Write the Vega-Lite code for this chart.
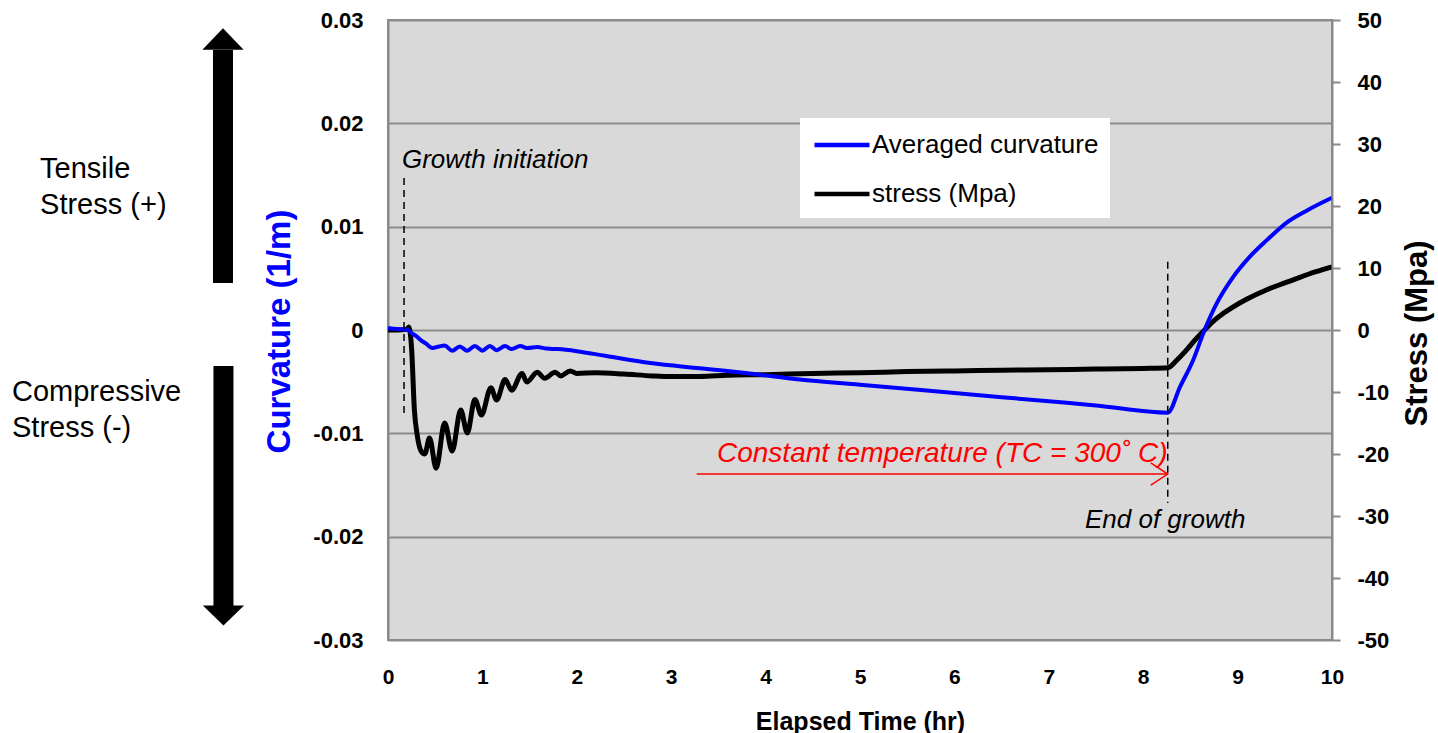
{
  "$schema": "https://vega.github.io/schema/vega-lite/v6.json",
  "width": 944,
  "height": 620,
  "autosize": {"type": "none"},
  "padding": {"left": 388, "top": 20, "right": 106, "bottom": 93},
  "background": "#ffffff",
  "datasets": {
    "stress": [
      {"t": 0, "s": 0, "series": "stress (Mpa)"},
      {"t": 0.1, "s": 0, "series": "stress (Mpa)"},
      {"t": 0.2, "s": 0.1, "series": "stress (Mpa)"},
      {"t": 0.22, "s": 0.5, "series": "stress (Mpa)"},
      {"t": 0.25, "s": -3, "series": "stress (Mpa)"},
      {"t": 0.28, "s": -13, "series": "stress (Mpa)"},
      {"t": 0.31, "s": -17, "series": "stress (Mpa)"},
      {"t": 0.35, "s": -19.5, "series": "stress (Mpa)"},
      {"t": 0.39, "s": -20, "series": "stress (Mpa)"},
      {"t": 0.44, "s": -17.4, "series": "stress (Mpa)"},
      {"t": 0.51, "s": -22.3, "series": "stress (Mpa)"},
      {"t": 0.6, "s": -15, "series": "stress (Mpa)"},
      {"t": 0.68, "s": -19.5, "series": "stress (Mpa)"},
      {"t": 0.77, "s": -12.9, "series": "stress (Mpa)"},
      {"t": 0.84, "s": -16.6, "series": "stress (Mpa)"},
      {"t": 0.92, "s": -11.2, "series": "stress (Mpa)"},
      {"t": 0.99, "s": -13.7, "series": "stress (Mpa)"},
      {"t": 1.09, "s": -9.3, "series": "stress (Mpa)"},
      {"t": 1.15, "s": -11.3, "series": "stress (Mpa)"},
      {"t": 1.24, "s": -8.0, "series": "stress (Mpa)"},
      {"t": 1.31, "s": -9.7, "series": "stress (Mpa)"},
      {"t": 1.42, "s": -7.0, "series": "stress (Mpa)"},
      {"t": 1.47, "s": -8.4, "series": "stress (Mpa)"},
      {"t": 1.58, "s": -6.8, "series": "stress (Mpa)"},
      {"t": 1.66, "s": -7.8, "series": "stress (Mpa)"},
      {"t": 1.77, "s": -6.8, "series": "stress (Mpa)"},
      {"t": 1.83, "s": -7.4, "series": "stress (Mpa)"},
      {"t": 1.93, "s": -6.6, "series": "stress (Mpa)"},
      {"t": 2.0, "s": -7.0, "series": "stress (Mpa)"},
      {"t": 2.2, "s": -6.9, "series": "stress (Mpa)"},
      {"t": 2.5, "s": -7.1, "series": "stress (Mpa)"},
      {"t": 2.8, "s": -7.4, "series": "stress (Mpa)"},
      {"t": 3.0, "s": -7.5, "series": "stress (Mpa)"},
      {"t": 3.3, "s": -7.5, "series": "stress (Mpa)"},
      {"t": 3.6, "s": -7.3, "series": "stress (Mpa)"},
      {"t": 4.0, "s": -7.2, "series": "stress (Mpa)"},
      {"t": 4.5, "s": -7.0, "series": "stress (Mpa)"},
      {"t": 5.0, "s": -6.9, "series": "stress (Mpa)"},
      {"t": 5.5, "s": -6.7, "series": "stress (Mpa)"},
      {"t": 6.0, "s": -6.6, "series": "stress (Mpa)"},
      {"t": 6.5, "s": -6.5, "series": "stress (Mpa)"},
      {"t": 7.0, "s": -6.4, "series": "stress (Mpa)"},
      {"t": 7.5, "s": -6.3, "series": "stress (Mpa)"},
      {"t": 8.0, "s": -6.2, "series": "stress (Mpa)"},
      {"t": 8.26, "s": -6.1, "series": "stress (Mpa)"},
      {"t": 8.36, "s": -4.8, "series": "stress (Mpa)"},
      {"t": 8.46, "s": -3.2, "series": "stress (Mpa)"},
      {"t": 8.55, "s": -1.6, "series": "stress (Mpa)"},
      {"t": 8.65, "s": 0, "series": "stress (Mpa)"},
      {"t": 8.75, "s": 1.5, "series": "stress (Mpa)"},
      {"t": 8.85, "s": 2.7, "series": "stress (Mpa)"},
      {"t": 8.95, "s": 3.7, "series": "stress (Mpa)"},
      {"t": 9.1, "s": 5.0, "series": "stress (Mpa)"},
      {"t": 9.31, "s": 6.5, "series": "stress (Mpa)"},
      {"t": 9.5, "s": 7.6, "series": "stress (Mpa)"},
      {"t": 9.66, "s": 8.5, "series": "stress (Mpa)"},
      {"t": 9.83, "s": 9.4, "series": "stress (Mpa)"},
      {"t": 10, "s": 10.2, "series": "stress (Mpa)"}
    ],
    "curv": [
      {"t": 0, "k": 0.0002, "series": "Averaged curvature"},
      {"t": 0.1, "k": 0.0001, "series": "Averaged curvature"},
      {"t": 0.2, "k": 0.00005, "series": "Averaged curvature"},
      {"t": 0.25, "k": -0.0003, "series": "Averaged curvature"},
      {"t": 0.3, "k": -0.0006, "series": "Averaged curvature"},
      {"t": 0.35, "k": -0.001, "series": "Averaged curvature"},
      {"t": 0.4, "k": -0.0013, "series": "Averaged curvature"},
      {"t": 0.47, "k": -0.00175, "series": "Averaged curvature"},
      {"t": 0.54, "k": -0.0016, "series": "Averaged curvature"},
      {"t": 0.6, "k": -0.0015, "series": "Averaged curvature"},
      {"t": 0.68, "k": -0.002, "series": "Averaged curvature"},
      {"t": 0.76, "k": -0.0016, "series": "Averaged curvature"},
      {"t": 0.84, "k": -0.002, "series": "Averaged curvature"},
      {"t": 0.92, "k": -0.00155, "series": "Averaged curvature"},
      {"t": 1.0, "k": -0.002, "series": "Averaged curvature"},
      {"t": 1.08, "k": -0.00155, "series": "Averaged curvature"},
      {"t": 1.15, "k": -0.00195, "series": "Averaged curvature"},
      {"t": 1.24, "k": -0.00155, "series": "Averaged curvature"},
      {"t": 1.31, "k": -0.00185, "series": "Averaged curvature"},
      {"t": 1.4, "k": -0.00155, "series": "Averaged curvature"},
      {"t": 1.48, "k": -0.00175, "series": "Averaged curvature"},
      {"t": 1.58, "k": -0.00165, "series": "Averaged curvature"},
      {"t": 1.68, "k": -0.0018, "series": "Averaged curvature"},
      {"t": 1.8, "k": -0.00185, "series": "Averaged curvature"},
      {"t": 2.0, "k": -0.00205, "series": "Averaged curvature"},
      {"t": 2.3, "k": -0.0025, "series": "Averaged curvature"},
      {"t": 2.78, "k": -0.0032, "series": "Averaged curvature"},
      {"t": 3.3, "k": -0.0037, "series": "Averaged curvature"},
      {"t": 3.83, "k": -0.0042, "series": "Averaged curvature"},
      {"t": 4.36, "k": -0.0048, "series": "Averaged curvature"},
      {"t": 5.0, "k": -0.0053, "series": "Averaged curvature"},
      {"t": 6.0, "k": -0.0061, "series": "Averaged curvature"},
      {"t": 7.0, "k": -0.0069, "series": "Averaged curvature"},
      {"t": 7.5, "k": -0.0073, "series": "Averaged curvature"},
      {"t": 8.26, "k": -0.008, "series": "Averaged curvature"},
      {"t": 8.39, "k": -0.0055, "series": "Averaged curvature"},
      {"t": 8.53, "k": -0.0029, "series": "Averaged curvature"},
      {"t": 8.65, "k": 0, "series": "Averaged curvature"},
      {"t": 8.78, "k": 0.0026, "series": "Averaged curvature"},
      {"t": 8.95, "k": 0.0051, "series": "Averaged curvature"},
      {"t": 9.13, "k": 0.0071, "series": "Averaged curvature"},
      {"t": 9.31, "k": 0.0087, "series": "Averaged curvature"},
      {"t": 9.52, "k": 0.0104, "series": "Averaged curvature"},
      {"t": 9.74, "k": 0.0116, "series": "Averaged curvature"},
      {"t": 10, "k": 0.0128, "series": "Averaged curvature"}
    ],
    "dashes": [
      {"t": 0.17, "y1": 0.0147, "y2": -0.0085},
      {"t": 8.26, "y1": 0.0066, "y2": -0.01674}
    ],
    "notes": [
      {"t": 0.148, "y": 0.015678, "label": "Growth initiation"},
      {"t": 7.383, "y": -0.019162, "label": "End of growth"}
    ],
    "redNote": [
      {"t": 3.485, "y": -0.012775, "label": "Constant temperature (TC = 300˚ C)"}
    ],
    "redArrow": [
      {"t": 3.27, "t2": 8.26, "y": -0.013936}
    ],
    "redHead": [
      {"t": 8.26, "y": -0.013936}
    ],
    "sideNotes": [
      {"t": -3.686, "y": 0.01471, "label": ["Tensile", "Stress (+)"]},
      {"t": -3.983, "y": -0.00687, "label": ["Compressive", "Stress (-)"]}
    ],
    "shafts": [
      {"t": -1.748, "y1": 0.0271, "y2": 0.00455},
      {"t": -1.743, "y1": -0.003484, "y2": -0.02671}
    ],
    "heads": [
      {"t": -1.748, "y": 0.028162, "dir": "up"},
      {"t": -1.743, "y": -0.02763, "dir": "down"}
    ]
  },
  "encoding": {
    "x": {
      "field": "t", "type": "quantitative",
      "scale": {"domain": [0, 10], "nice": false, "zero": false},
      "axis": {
        "values": [0, 1, 2, 3, 4, 5, 6, 7, 8, 9, 10],
        "ticks": true, "tickSize": 0, "grid": false, "domain": false,
        "labelFlush": false, "labelOverlap": false,
        "labelFontSize": 21, "labelPadding": 26, "zindex": 1,
        "title": "Elapsed Time (hr)", "titleFontSize": 25,
        "titleX": 472, "titleY": 89, "titleBaseline": "alphabetic", "titleAlign": "center"
      }
    }
  },
  "layer": [
    {
      "data": {"name": "stress"},
      "mark": {"type": "line", "strokeWidth": 5, "strokeJoin": "round", "interpolate": "monotone"},
      "encoding": {
        "y": {
          "field": "s", "type": "quantitative",
          "scale": {"domain": [-50, 50], "nice": false, "zero": false},
          "axis": {
            "orient": "right",
            "values": [-50, -40, -30, -20, -10, 0, 10, 20, 30, 40, 50],
            "labelExpr": "datum.value < 0 ? '-' + format(-datum.value, 'd') : format(datum.value, 'd')",
            "grid": false, "ticks": true, "tickSize": 8, "tickWidth": 2, "zindex": 1,
            "labelFontSize": 22, "labelPadding": 17, "labelFlush": false,
            "title": "Stress (Mpa)", "titleFontSize": 31, "titleAngle": -90,
            "titleX": 85, "titleY": 313, "titleBaseline": "middle", "titleAlign": "center"
          }
        },
        "color": {
          "field": "series", "type": "nominal",
          "scale": {"domain": ["Averaged curvature", "stress (Mpa)"], "range": ["#0000ff", "#000000"]},
          "legend": {
            "title": null, "orient": "none", "legendX": 412, "legendY": 98,
            "fillColor": "#ffffff", "padding": 11,
            "symbolType": "M-2,0L2,0", "symbolSize": 756, "symbolStrokeWidth": 4.5,
            "symbolOffset": 15,
            "labelFontSize": 26, "labelFont": "Liberation Sans", "labelColor": "#000000",
            "labelOffset": 14, "rowPadding": 20, "labelLimit": 400
          }
        }
      }
    },
    {
      "data": {"name": "curv"},
      "mark": {"type": "line", "strokeWidth": 4, "strokeJoin": "round", "interpolate": "monotone"},
      "encoding": {
        "y": {
          "field": "k", "type": "quantitative",
          "scale": {"domain": [-0.03, 0.03], "nice": false, "zero": false},
          "axis": {
            "orient": "left",
            "values": [-0.03, -0.02, -0.01, 0, 0.01, 0.02, 0.03],
            "labelExpr": "datum.value == 0 ? '0' : (datum.value < 0 ? '-' + format(-datum.value, '.2f') : format(datum.value, '.2f'))",
            "grid": true, "ticks": true, "tickSize": 0, "zindex": 0,
            "labelFontSize": 22, "labelPadding": 25, "labelFlush": false,
            "title": "Curvature (1/m)", "titleColor": "#0000ff", "titleFontSize": 33, "titleAngle": -90,
            "titleX": -109, "titleY": 311, "titleBaseline": "middle", "titleAlign": "center"
          }
        },
        "color": {"field": "series", "type": "nominal"}
      }
    },
    {
      "data": {"name": "dashes"},
      "mark": {"type": "rule", "color": "#000000", "strokeWidth": 1.5, "strokeDash": [7, 5]},
      "encoding": {
        "y": {"field": "y1", "type": "quantitative", "scale": {"domain": [-0.03, 0.03], "nice": false, "zero": false}, "axis": null},
        "y2": {"field": "y2"}
      }
    },
    {
      "data": {"name": "redArrow"},
      "mark": {"type": "rule", "color": "#ff0000", "strokeWidth": 1.5},
      "encoding": {
        "x2": {"field": "t2"},
        "y": {"field": "y", "type": "quantitative", "scale": {"domain": [-0.03, 0.03], "nice": false, "zero": false}, "axis": null}
      }
    },
    {
      "data": {"name": "redHead"},
      "mark": {"type": "point", "shape": "M-1,-0.65L0,0L-1,0.65", "filled": false, "color": "#ff0000", "strokeWidth": 1.5, "size": 1156, "opacity": 1},
      "encoding": {
        "y": {"field": "y", "type": "quantitative", "scale": {"domain": [-0.03, 0.03], "nice": false, "zero": false}, "axis": null}
      }
    },
    {
      "data": {"name": "redNote"},
      "mark": {"type": "text", "font": "Liberation Sans", "fontStyle": "italic", "fontSize": 28, "color": "#ff0000", "align": "left", "baseline": "alphabetic"},
      "encoding": {
        "y": {"field": "y", "type": "quantitative", "scale": {"domain": [-0.03, 0.03], "nice": false, "zero": false}, "axis": null},
        "text": {"field": "label"}
      }
    },
    {
      "data": {"name": "notes"},
      "mark": {"type": "text", "font": "Liberation Sans", "fontStyle": "italic", "fontSize": 26, "color": "#000000", "align": "left", "baseline": "alphabetic"},
      "encoding": {
        "y": {"field": "y", "type": "quantitative", "scale": {"domain": [-0.03, 0.03], "nice": false, "zero": false}, "axis": null},
        "text": {"field": "label"}
      }
    },
    {
      "data": {"name": "sideNotes"},
      "mark": {"type": "text", "font": "Liberation Sans", "fontSize": 29, "lineHeight": 36, "color": "#000000", "align": "left", "baseline": "alphabetic"},
      "encoding": {
        "y": {"field": "y", "type": "quantitative", "scale": {"domain": [-0.03, 0.03], "nice": false, "zero": false}, "axis": null},
        "text": {"field": "label"}
      }
    },
    {
      "data": {"name": "shafts"},
      "mark": {"type": "rule", "color": "#000000", "strokeWidth": 20, "strokeCap": "butt"},
      "encoding": {
        "y": {"field": "y1", "type": "quantitative", "scale": {"domain": [-0.03, 0.03], "nice": false, "zero": false}, "axis": null},
        "y2": {"field": "y2"}
      }
    },
    {
      "data": {"name": "heads"},
      "mark": {"type": "point", "filled": true, "color": "#000000", "size": 1700, "opacity": 1, "strokeWidth": 0},
      "encoding": {
        "y": {"field": "y", "type": "quantitative", "scale": {"domain": [-0.03, 0.03], "nice": false, "zero": false}, "axis": null},
        "shape": {
          "field": "dir", "type": "nominal",
          "scale": {"domain": ["up", "down"], "range": ["M-1,0.52L0,-0.52L1,0.52Z", "M-1,-0.48L0,0.48L1,-0.48Z"]},
          "legend": null
        }
      }
    }
  ],
  "resolve": {"scale": {"y": "independent"}},
  "config": {
    "view": {"fill": "#d9d9d9", "stroke": "#898989", "strokeWidth": 2},
    "axis": {
      "labelFont": "Liberation Sans", "titleFont": "Liberation Sans",
      "labelFontWeight": "bold", "titleFontWeight": "bold",
      "labelColor": "#000000", "titleColor": "#000000",
      "domainColor": "#898989", "domainWidth": 2,
      "gridColor": "#8c8c8c", "gridWidth": 2, "gridOpacity": 1,
      "tickColor": "#898989"
    }
  }
}
